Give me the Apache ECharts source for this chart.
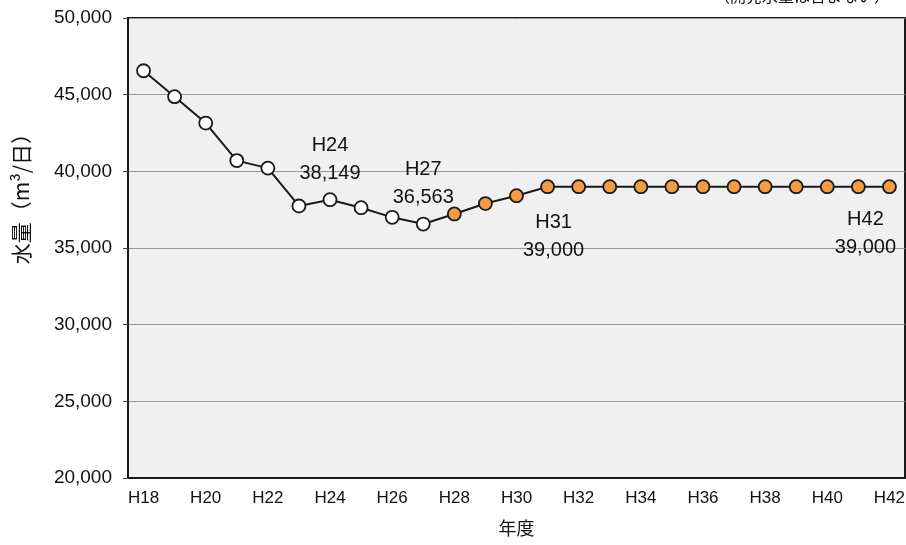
<!DOCTYPE html>
<html>
<head>
<meta charset="utf-8">
<script src="https://cdn.jsdelivr.net/npm/echarts@6/dist/echarts.min.js"></script>
<style>html,body{margin:0;padding:0;background:#fff}#c{width:906px;height:545px}</style>
</head>
<body>
<div id="c"></div>
<script>
const years = ['H18','H19','H20','H21','H22','H23','H24','H25','H26','H27','H28','H29','H30','H31','H32','H33','H34','H35','H36','H37','H38','H39','H40','H41','H42'];
const values = [46560, 44870, 43150, 40700, 40210, 37740, 38149, 37630, 37000, 36563, 37220, 37900, 38410, 39000, 39000, 39000, 39000, 39000, 39000, 39000, 39000, 39000, 39000, 39000, 39000];
const actualCount = 10; // H18..H27 actual (open markers), rest projected (orange)
const labelsAbove = ['H24', 'H27'];
const labelsBelow = ['H31', 'H42'];
const yTicks = {min: 20000, max: 50000, interval: 5000};

const fmt = v => v.toLocaleString('en-US');
const FONT = 'Liberation Sans, Arial, sans-serif';
const JP = 'Noto Sans CJK JP, sans-serif';

const data = values.map((v, i) => {
  const item = {value: v};
  if (i >= actualCount) {
    item.itemStyle = {color: '#F39C44', borderColor: '#1a1a1a'};
  }
  const y = years[i];
  if (labelsAbove.includes(y)) {
    item.label = {show: true, position: 'top', distance: 5, formatter: y + '\n' + fmt(v)};
  } else if (labelsBelow.includes(y)) {
    item.label = {show: true, position: 'bottom', distance: y === 'H42' ? 11 : 14, formatter: y + '\n' + fmt(v),
      offset: y === 'H42' ? [-24, 0] : [6, 0]};
  }
  return item;
});

const chart = echarts.init(document.getElementById('c'), null, {renderer: 'canvas'});
chart.setOption({
  animation: false,
  backgroundColor: '#fff',
  textStyle: {fontFamily: FONT},
  grid: {left: 128, top: 18, right: 1, bottom: 67, show: true, backgroundColor: '#f0f0f0',
    borderColor: '#1a1a1a', borderWidth: 2, containLabel: false, outerBoundsMode: 'none'},
  xAxis: {
    type: 'category', data: years, boundaryGap: true,
    name: '年度', nameLocation: 'middle', nameGap: 41,
    nameTextStyle: {fontSize: 18, color: '#111', fontFamily: JP},
    axisLine: {lineStyle: {color: '#1a1a1a', width: 2}},
    axisTick: {inside: true, length: 5, interval: 0, lineStyle: {color: '#444'}},
    axisLabel: {interval: 1, fontSize: 17, color: '#111', margin: 12, fontFamily: FONT}
  },
  yAxis: {
    type: 'value', min: yTicks.min, max: yTicks.max, interval: yTicks.interval,
    axisLine: {show: true, lineStyle: {color: '#1a1a1a', width: 2}},
    axisTick: {show: true, length: 5, lineStyle: {color: '#444'}},
    axisLabel: {fontSize: 19, color: '#111', margin: 16, formatter: v => fmt(v), fontFamily: FONT},
    splitLine: {lineStyle: {color: '#999', width: 1}}
  },
  graphic: [
    {type: 'text', left: 11, top: 123, rotation: Math.PI / 2,
      style: {text: '水量（m³/日）', fontSize: 21, fill: '#111', fontFamily: JP}},
    {type: 'text', left: 714, top: -12,
      style: {text: '（開発水量は含まない）', fontSize: 16, fill: '#111', fontFamily: JP}}
  ],
  series: [{
    type: 'line', data: data,
    symbol: 'circle', symbolSize: 13,
    lineStyle: {color: '#1a1a1a', width: 2},
    itemStyle: {color: '#fff', borderColor: '#1a1a1a', borderWidth: 1.8},
    label: {fontSize: 20, color: '#111', lineHeight: 28, fontFamily: FONT},
    z: 3
  }]
});
</script>
</body>
</html>
